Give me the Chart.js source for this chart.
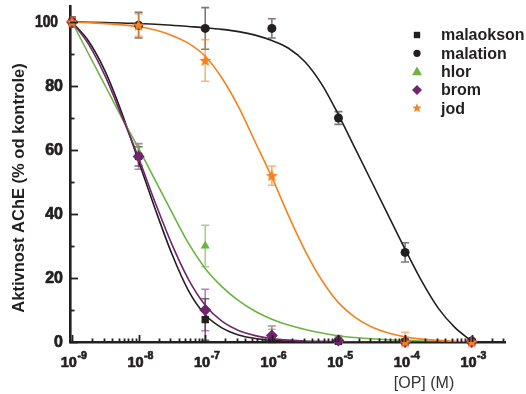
<!DOCTYPE html>
<html>
<head>
<meta charset="utf-8">
<script src="https://cdn.jsdelivr.net/npm/chart.js@4.4.0/dist/chart.umd.min.js"></script>
<style>
  html, body { margin: 0; padding: 0; background: #fff; }
  #wrap { width: 526px; height: 394px; position: relative; }
</style>
</head>
<body>
<div id="wrap"><canvas id="chart"></canvas></div>
<script>
// measured points: concentration exponents (10^x M)
const concExp = [-9, -8, -7, -6, -5, -4, -3];

const malaoksonVals = [100, 58, 7, 0.8, 0.2, 0, 0];
const malaoksonErr  = [1.5, 3, 6.5, 1, 0.5, 0.5, 0.5];
const malationVals  = [100, 99, 98, 98, 70, 28, 0.3];
const malationErr   = [1.5, 4, 6.5, 3, 2, 3, 0.5];
const hlorVals      = [100, 58, 30, 2, 0.5, 0.2, 0];
const hlorErr       = [1.5, 3, 6.5, 2, 1, 0.5, 0.5];
const bromVals      = [100, 58, 10, 2, 0.5, 0, 0];
const bromErr       = [1.5, 4, 6.5, 3, 1.5, 0.5, 0.5];
const jodVals       = [100, 99, 88, 52, null, 0, 0];
const jodErr        = [1.5, 3.5, 6.5, 3, null, 3, 0.5];

// fitted curves, every quarter decade
const curveExp = [-9, -8.75, -8.5, -8.25, -8, -7.75, -7.5, -7.25, -7, -6.75, -6.5, -6.25,
                  -6, -5.75, -5.5, -5.25, -5, -4.75, -4.5, -4.25, -4, -3.75, -3.5, -3.25, -3];
const malaoksonFit = [100, 94, 84.5, 71.5, 56.5, 41.5, 27.5, 16, 8.5, 4.4, 2.2, 1.1, 0.5, 0.2, 0.1, 0, 0, 0, 0, 0, 0, 0, 0, 0, 0];
const malationFit  = [100, 99.9, 99.8, 99.7, 99.5, 99.3, 99, 98.6, 98.2, 97.7, 97, 95.9, 94.2, 91.8, 87.5, 80.5, 71, 60.5, 50, 39.5, 29, 19, 10.5, 4.5, 0.3];
const hlorFit      = [100, 90, 80, 70, 60.5, 50.5, 40.5, 30.8, 23, 17.3, 12.9, 9.6, 7.1, 5.3, 3.9, 2.8, 1.9, 1.4, 1, 0.7, 0.5, 0.3, 0.2, 0.1, 0.1];
const bromFit      = [100, 93, 83, 70.5, 57.5, 43.5, 30.5, 19.5, 11.5, 6.5, 3.6, 2, 1.1, 0.6, 0.3, 0.2, 0.1, 0, 0, 0, 0, 0, 0, 0, 0];
const jodFit       = [100, 99.8, 99.5, 99.1, 98.5, 97.5, 95.8, 93.3, 89.3, 82.5, 73.5, 62.5, 51.5, 39.5, 28.5, 19.3, 12.3, 7.7, 4.7, 2.8, 1.6, 0.9, 0.5, 0.2, 0];

const xTickExp = [-9, -8, -7, -6, -5, -4, -3];
const yTickLabels = [0, 20, 40, 60, 80, 100];

const INK = '#231f20';
const series = [
  { name: 'malaokson', vals: malaoksonVals, err: malaoksonErr, fit: malaoksonFit, color: INK, errColor: 'rgba(35,31,32,0.65)', style: 'rect' },
  { name: 'malation', vals: malationVals, err: malationErr, fit: malationFit, color: INK, errColor: 'rgba(35,31,32,0.6)', style: 'circle' },
  { name: 'hlor', vals: hlorVals, err: hlorErr, fit: hlorFit, color: '#6cb33f', errColor: 'rgba(108,179,63,0.6)', style: 'triangle' },
  { name: 'brom', vals: bromVals, err: bromErr, fit: bromFit, color: '#74236f', errColor: 'rgba(116,35,111,0.55)', style: 'rectRot' },
  { name: 'jod', vals: jodVals, err: jodErr, fit: jodFit, color: '#f5821f', errColor: 'rgba(245,130,31,0.6)', style: 'star' }
];

function starPath(ctx, cx, cy, rOut, rIn) {
  ctx.beginPath();
  for (let i = 0; i < 10; i++) {
    const r = i % 2 ? rIn : rOut;
    const a = -Math.PI / 2 + i * Math.PI / 5;
    ctx.lineTo(cx + r * Math.cos(a), cy + r * Math.sin(a));
  }
  ctx.closePath();
}

function makeStar(size, color) {
  const c = document.createElement('canvas');
  c.width = size; c.height = size;
  const g = c.getContext('2d');
  g.fillStyle = color;
  starPath(g, size / 2, size / 2 + 0.5, size / 2, size / 4.6);
  g.fill();
  return c;
}

const starImg = makeStar(13, '#f5821f');

const toXY = (exps, vals) => exps.map((e, i) => ({ x: Math.pow(10, e), y: vals[i] }));

const datasets = [];
series.forEach((s, i) => {
  datasets.push({
    type: 'scatter',
    label: s.name,
    data: toXY(concExp, s.vals),
    pointStyle: s.style === 'star' ? starImg : s.style,
    pointRadius: s.style === 'circle' ? 4.5 : (s.style === 'rectRot' ? 6 : 5.2),
    backgroundColor: s.color,
    borderColor: s.color,
    borderWidth: 0,
    order: 4 - i,
    clip: false
  });
});
series.forEach((s, i) => {
  datasets.push({
    type: 'line',
    label: s.name + ' fit',
    data: toXY(curveExp, s.fit),
    borderColor: s.color,
    borderWidth: 1.6,
    pointRadius: 0,
    fill: false,
    cubicInterpolationMode: 'monotone',
    order: 10 + (4 - i)
  });
});

function drawMarker(ctx, style, x, y, r, color) {
  ctx.save();
  ctx.fillStyle = color;
  ctx.beginPath();
  if (style === 'rect') {
    ctx.rect(x - r, y - r, 2 * r, 2 * r);
  } else if (style === 'circle') {
    ctx.arc(x, y, r, 0, Math.PI * 2);
  } else if (style === 'triangle') {
    ctx.moveTo(x, y - r);
    ctx.lineTo(x + r * 0.95, y + r * 0.7);
    ctx.lineTo(x - r * 0.95, y + r * 0.7);
    ctx.closePath();
  } else if (style === 'rectRot') {
    ctx.moveTo(x, y - r); ctx.lineTo(x + r, y); ctx.lineTo(x, y + r); ctx.lineTo(x - r, y);
    ctx.closePath();
  } else if (style === 'star') {
    starPath(ctx, x, y, r, r / 2.3);
  }
  ctx.fill();
  ctx.restore();
}

// heavier text, the original labels use a black-weight face
function heavyText(ctx, text, x, y, maxW) {
  ctx.lineWidth = 0.7;
  ctx.lineJoin = 'round';
  if (maxW) { ctx.strokeText(text, x, y, maxW); ctx.fillText(text, x, y, maxW); }
  else { ctx.strokeText(text, x, y); ctx.fillText(text, x, y); }
}

const decor = {
  id: 'decor',
  beforeDatasetsDraw(chart) {
    const { ctx, chartArea: a, scales: { x, y } } = chart;
    ctx.save();
    ctx.beginPath();
    ctx.rect(a.left, a.top - 10, a.right - a.left, a.bottom - a.top + 10);
    ctx.clip();
    ctx.lineWidth = 1.6;
    series.forEach(s => {
      ctx.strokeStyle = s.errColor;
      concExp.forEach((e, i) => {
        if (s.vals[i] == null || s.err[i] == null) return;
        const px = x.getPixelForValue(Math.pow(10, e));
        const top = y.getPixelForValue(s.vals[i] + s.err[i]);
        const bot = y.getPixelForValue(s.vals[i] - s.err[i]);
        ctx.beginPath();
        ctx.moveTo(px, top); ctx.lineTo(px, bot);
        ctx.moveTo(px - 4, top); ctx.lineTo(px + 4, top);
        ctx.moveTo(px - 4, bot); ctx.lineTo(px + 4, bot);
        ctx.stroke();
      });
    });
    ctx.restore();
  },
  afterDraw(chart) {
    const { ctx, chartArea: a, scales: { x, y } } = chart;
    ctx.save();
    ctx.strokeStyle = INK;
    ctx.fillStyle = INK;
    ctx.lineWidth = 1.8;

    // y ticks, pointing inward
    for (let v = 0; v <= 100; v += 10) {
      const py = Math.round(y.getPixelForValue(v)) + 0.5;
      const len = v % 20 === 0 ? 8 : 4.5;
      ctx.beginPath();
      ctx.moveTo(a.left, py); ctx.lineTo(a.left + len, py);
      ctx.stroke();
    }
    // x ticks, pointing inward
    xTickExp.forEach(e => {
      for (let k = 1; k <= 9; k++) {
        const val = k * Math.pow(10, e);
        if (val > x.max) break;
        const px = Math.round(x.getPixelForValue(val)) + 0.5;
        const len = k === 1 ? 7 : 3.5;
        ctx.beginPath();
        ctx.moveTo(px, a.bottom); ctx.lineTo(px, a.bottom - len);
        ctx.stroke();
      }
    });

    // y tick labels
    ctx.font = 'bold 16px "Liberation Sans", Arial, sans-serif';
    ctx.textAlign = 'right';
    ctx.textBaseline = 'middle';
    yTickLabels.forEach(v => {
      const py = y.getPixelForValue(v) + 0.5;
      if (v === 100) heavyText(ctx, String(v), a.left - 12, py, 23);
      else heavyText(ctx, String(v), a.left - 7, py);
    });

    // x tick labels 10^n
    ctx.textAlign = 'left';
    ctx.textBaseline = 'alphabetic';
    xTickExp.forEach(e => {
      const px = x.getPixelForValue(Math.pow(10, e));
      ctx.font = 'bold 14.5px "Liberation Sans", Arial, sans-serif';
      const w1 = ctx.measureText('10').width;
      ctx.font = 'bold 10.5px "Liberation Sans", Arial, sans-serif';
      const sup = String(e);
      const w2 = ctx.measureText(sup).width;
      const x0 = px - (w1 + w2) / 2 + 1.5;
      ctx.font = 'bold 14.5px "Liberation Sans", Arial, sans-serif';
      heavyText(ctx, '10', x0, a.bottom + 25);
      ctx.font = 'bold 10.5px "Liberation Sans", Arial, sans-serif';
      heavyText(ctx, sup, x0 + w1 + 0.5, a.bottom + 17);
    });

    // axis titles
    ctx.textAlign = 'center';
    ctx.textBaseline = 'middle';
    ctx.fillStyle = '#333';
    ctx.font = '16px "Liberation Sans", Arial, sans-serif';
    ctx.fillText('[OP] (M)', 424, 384);
    ctx.fillStyle = INK;
    ctx.save();
    ctx.translate(19, 188);
    ctx.rotate(-Math.PI / 2);
    ctx.font = 'bold 16.5px "Liberation Sans", Arial, sans-serif';
    ctx.fillText('Aktivnost AChE (% od kontrole)', 0, 0);
    ctx.restore();

    // legend
    ctx.font = 'bold 16px "Liberation Sans", Arial, sans-serif';
    ctx.textAlign = 'left';
    ctx.textBaseline = 'middle';
    const legR = { rect: 3.2, circle: 3.6, triangle: 5.2, rectRot: 5, star: 5 };
    series.forEach((s, i) => {
      const ly = 35 + i * 18.3;
      drawMarker(ctx, s.style, 417, ly, legR[s.style], s.color);
      ctx.fillStyle = INK;
      ctx.fillText(s.name, 441, ly + 1);
    });
    ctx.restore();
  }
};

new Chart(document.getElementById('chart'), {
  data: { datasets: datasets },
  options: {
    responsive: true,
    maintainAspectRatio: false,
    animation: false,
    devicePixelRatio: 1,
    events: [],
    layout: { padding: { left: 70, right: 21, top: 6, bottom: 52 } },
    plugins: { legend: { display: false }, tooltip: { enabled: false } },
    scales: {
      x: {
        type: 'logarithmic',
        min: Math.pow(10, -9.03),
        max: Math.pow(10, -2.5),
        grid: { display: false, drawTicks: false },
        border: { display: true, color: INK, width: 2.6 },
        ticks: { display: false },
        afterFit(s) { s.height = 0; }
      },
      y: {
        type: 'linear',
        min: 0,
        max: 105,
        grid: { display: false, drawTicks: false },
        border: { display: true, color: INK, width: 2.6 },
        ticks: { display: false },
        afterFit(s) { s.width = 0; }
      }
    }
  },
  plugins: [decor]
});
</script>
</body>
</html>
